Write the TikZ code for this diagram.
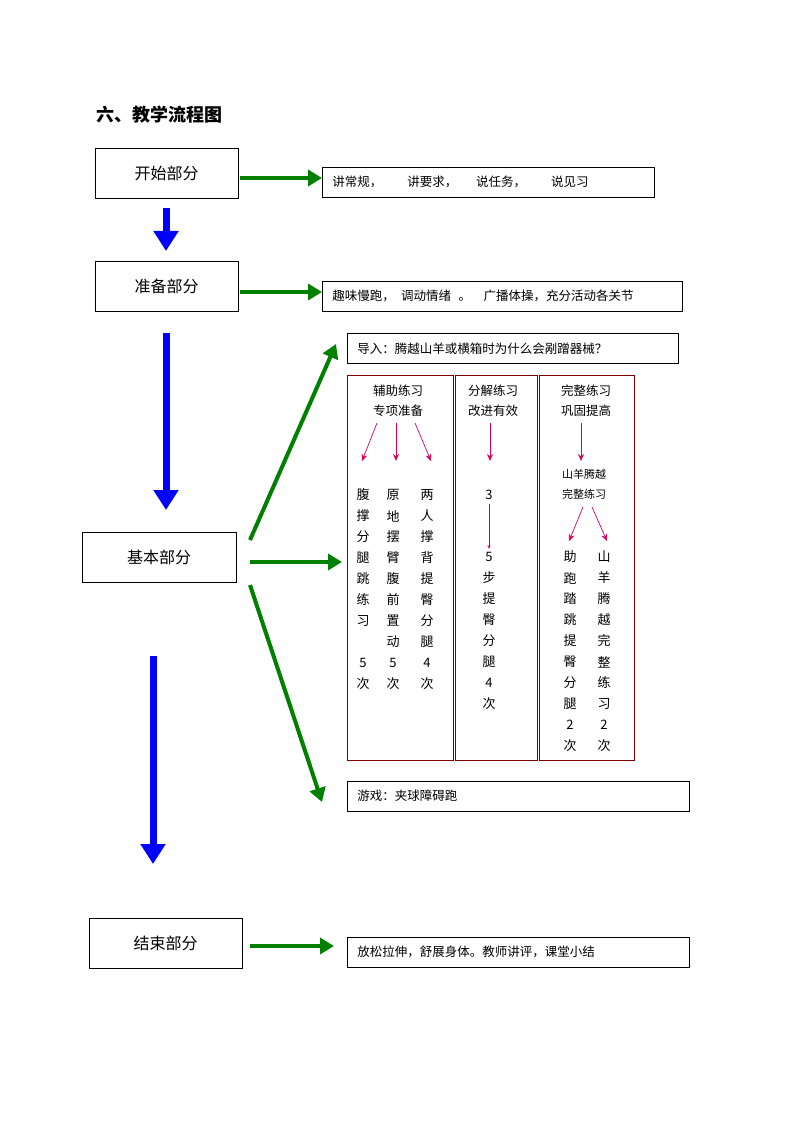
\documentclass[tikz,border=0pt]{standalone}
\usepackage{fontspec}
\setmainfont{Noto Sans CJK SC}
\usetikzlibrary{arrows.meta}
\definecolor{dred}{RGB}{128,0,0}
\definecolor{gar}{RGB}{0,128,0}
\definecolor{pink}{RGB}{220,0,90}
\begin{document}
\begin{tikzpicture}[x=1pt,y=-1pt,
  part/.style={draw,line width=0.8pt,minimum height=50pt,font=\fontsize{16}{18}\selectfont},
  tbox/.style={draw,line width=0.8pt,anchor=west,minimum height=30pt,font=\fontsize{12.5}{14}\selectfont,inner xsep=10pt,text width=#1,align=left},
  col/.style={draw=dred,line width=0.8pt},
  garr/.style={draw=gar,line width=4pt,-{Triangle[length=14pt,width=16pt]}},
  barr/.style={draw=blue,line width=7pt,-{Triangle[length=20pt,width=24pt]}},
  parr/.style={draw=pink,line width=0.7pt,-{Stealth[length=7pt,width=6pt]}},
  ch/.style={font=\fontsize{13}{14}\selectfont,inner sep=0pt},
  sm/.style={font=\fontsize{12.5}{20}\selectfont,inner sep=0pt,align=center}]
\useasboundingbox (0,0) rectangle (794,1123);
\node[anchor=west,font=\bfseries\fontsize{18}{20}\selectfont] (title) at (93,115) {六、教学流程图};
% left parts
\node[part,minimum width=143pt] (p1) at (166.5,173.5) {开始部分};
\node[part,minimum width=143pt] (p2) at (166.5,286.5) {准备部分};
\node[part,minimum width=154pt] (p3) at (159,557.5) {基本部分};
\node[part,minimum width=153pt] (p4) at (165.5,943.5) {结束部分};
% right text boxes
\node[tbox=312pt] (t1) at (322,182) {讲常规，\hspace{2em}讲要求，\hspace{1.5em}说任务，\hspace{2em}说见习};
\node[tbox=340pt] (t2) at (322,296) {趣味慢跑，\hspace{0.5em}调动情绪\hspace{0.6em}。\hspace{1em}广播体操，充分活动各关节};
\node[tbox=311pt] (t3) at (347,348.5) {导入：腾越山羊或横箱时为什么会剐蹭器械？};
\node[tbox=322pt] (t4) at (347,796) {游戏：夹球障碍跑};
\node[tbox=322pt] (t5) at (347,952) {放松拉伸，舒展身体。教师讲评，课堂小结};
% columns
\draw[col] (347,375) rectangle (453,760);
\draw[col] (455,375) rectangle (537,760);
\draw[col] (539,375) rectangle (634,760);
% arrows
\coordinate (a1s) at (240,178); \coordinate (a2s) at (240,292);
\draw[garr] (a1s) -- (t1.west|-a1s);
\draw[garr] (a2s) -- (t2.west|-a2s);
\coordinate (b1) at (250,540); \coordinate (b1e) at (336,344);
\coordinate (b2) at (250,562); \coordinate (b2e) at (342,562);
\coordinate (b3) at (250,585); \coordinate (b3e) at (322,802);
\coordinate (b4) at (250,946); \coordinate (b4e) at (334,946);
\draw[garr] (b1) -- (b1e);
\draw[garr] (b2) -- (b2e);
\draw[garr] (b3) -- (b3e);
\draw[garr] (b4) -- (b4e);
\coordinate (v1s) at (166,208); \coordinate (v1e) at (166,251);
\coordinate (v2s) at (166,333); \coordinate (v2e) at (166,510);
\coordinate (v3s) at (153,656); \coordinate (v3e) at (153,864);
\draw[barr] (v1s) -- (v1e);
\draw[barr] (v2s) -- (v2e);
\draw[barr] (v3s) -- (v3e);
% column 1
\node[sm] (c1t) at (398,401) {辅助练习\\专项准备};
\draw[parr] (377,423) -- (362,461);
\draw[parr] (396,423) -- (396,461);
\draw[parr] (415,423) -- (431,461);
\foreach \c [count=\i] in {腹,撑,分,腿,跳,练,习,{},5,次}
  \node[ch] at (363,495+21*\i-21) {\c};
\foreach \c [count=\i] in {原,地,摆,臂,腹,前,置,动,5,次}
  \node[ch] at (393,495+21*\i-21) {\c};
\foreach \c [count=\i] in {两,人,撑,背,提,臀,分,腿,4,次}
  \node[ch] at (427,495+21*\i-21) {\c};
% column 2
\node[sm] (c2t) at (493,401) {分解练习\\改进有效};
\draw[parr] (490,423) -- (490,461);
\node[ch] (n3) at (489,495) {3};
\draw[draw=pink,line width=0.6pt,-{Stealth[length=4pt,width=3pt]}] (n3) ++(0,9) -- (489,549);
\foreach \c [count=\i] in {5,步,提,臀,分,腿,4,次}
  \node[ch] at (489,557+21*\i-21) {\c};
% column 3
\node[sm] (c3t) at (586,401) {完整练习\\巩固提高};
\draw[parr] (581,423) -- (581,461);
\node[sm,font=\fontsize{11}{20}\selectfont] (c3m) at (584,484) {山羊腾越\\完整练习};
\draw[parr] (583,507) -- (569,541);
\draw[parr] (592,507) -- (607,541);
\foreach \c [count=\i] in {助,跑,踏,跳,提,臀,分,腿,2,次}
  \node[ch] at (570,557+21*\i-21) {\c};
\foreach \c [count=\i] in {山,羊,腾,越,完,整,练,习,2,次}
  \node[ch] at (604,557+21*\i-21) {\c};
\end{tikzpicture}
\end{document}
